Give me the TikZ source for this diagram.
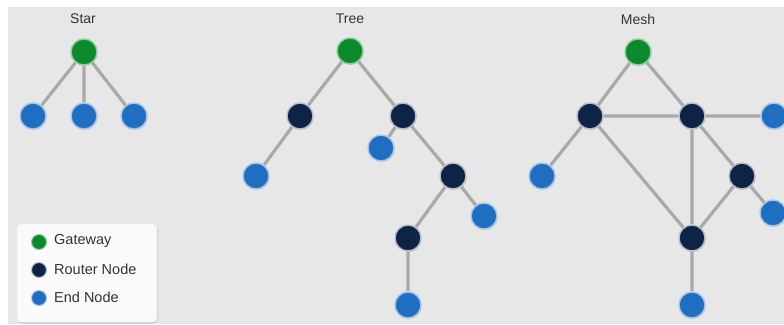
\documentclass[tikz,border=0pt]{standalone}
\usepackage{fontspec}
\setmainfont{Liberation Sans}
\usetikzlibrary{shadows}
\pgfdeclarelayer{backl}
\pgfdeclarelayer{edgel}
\pgfsetlayers{backl,edgel,main}
\definecolor{bg}{HTML}{E7E7E7}
\definecolor{gw}{HTML}{0B8A2C}
\definecolor{rt}{HTML}{0E2447}
\definecolor{en}{HTML}{1F6EC2}
\definecolor{edge}{HTML}{A9A9A9}
\definecolor{ttl}{HTML}{333333}
\tikzset{
  base/.style={circle, minimum size=26pt, inner sep=0pt, line width=1.4pt, drop shadow={shadow xshift=0.8pt, shadow yshift=-1pt, opacity=0.25}},
  gwnode/.style={base, fill=gw, draw=gw!45!white},
  rtnode/.style={base, fill=rt, draw=rt!30!white},
  ennode/.style={base, fill=en, draw=en!40!white},
  lk/.style={draw=edge, line width=3.2pt},
  ttlstyle/.style={text=ttl, font=\fontsize{14}{16}\selectfont},
  legtxt/.style={text=ttl, font=\fontsize{14.5}{16}\selectfont, anchor=west, inner sep=0pt},
  legdot/.style={circle, minimum size=15pt, inner sep=0pt, line width=1pt},
}
\begin{document}
\begin{tikzpicture}[x=1pt,y=-1pt]
\begin{pgfonlayer}{backl}
\fill[white] (0,0) rectangle (784,324);
\fill[bg] (8,7) rectangle (784,324);
\end{pgfonlayer}
\useasboundingbox (0,0) rectangle (784,324);

% titles
\node[ttlstyle] (tStar) at (83,19) {Star};
\node[ttlstyle] (tTree) at (350,19) {Tree};
\node[ttlstyle] (tMesh) at (638,19) {Mesh};

% Star
\node[gwnode] (sg) at (84,52) {};
\node[ennode] (s1) at (33,116) {};
\node[ennode] (s2) at (84,116) {};
\node[ennode] (s3) at (134,116) {};

% Tree
\node[gwnode] (tg) at (350,51) {};
\node[rtnode] (tr1) at (300,116) {};
\node[rtnode] (tr2) at (403,116) {};
\node[ennode] (te1) at (256,176) {};
\node[ennode] (te2) at (381,148) {};
\node[rtnode] (tr3) at (453,176) {};
\node[ennode] (te3) at (484,216) {};
\node[rtnode] (tr4) at (408,238) {};
\node[ennode] (te4) at (408,305) {};

% Mesh
\node[gwnode] (mg) at (638,52) {};
\node[rtnode] (mr1) at (590,116) {};
\node[rtnode] (mr2) at (692,116) {};
\node[ennode] (me1) at (774,116) {};
\node[ennode] (me2) at (542,176) {};
\node[rtnode] (mr3) at (742,176) {};
\node[ennode] (me3) at (773,213) {};
\node[rtnode] (mr4) at (692,238) {};
\node[ennode] (me4) at (692,305) {};

\begin{pgfonlayer}{edgel}
\draw[lk] (sg) -- (s1) (sg) -- (s2) (sg) -- (s3);
\draw[lk] (tg) -- (tr1) (tg) -- (tr2) (tr1) -- (te1) (tr2) -- (te2)
  (tr2) -- (tr3) (tr3) -- (te3) (tr3) -- (tr4) (tr4) -- (te4);
\draw[lk] (mg) -- (mr1) (mg) -- (mr2) (mr1) -- (mr2) (mr2) -- (me1)
  (mr1) -- (me2) (mr1) -- (mr4) (mr2) -- (mr4) (mr2) -- (mr3)
  (mr3) -- (me3) (mr3) -- (mr4) (mr4) -- (me4);
\end{pgfonlayer}

% legend
\node[draw=white!85!gray, fill=white!96!gray, rounded corners=4pt, line width=0.8pt,
  minimum width=140pt, minimum height=98pt, inner sep=0pt,
  drop shadow={shadow xshift=1pt, shadow yshift=-1.5pt, opacity=0.3}] (leg) at (87,273) {};
\node[legdot, fill=gw, draw=gw!45!white] (lg) at (39,242) {};
\node[legtxt] (lgt) at (54,241) {Gateway};
\node[legdot, fill=rt, draw=rt!30!white] (lr) at (39,270) {};
\node[legtxt] (lrt) at (54,269) {Router Node};
\node[legdot, fill=en, draw=en!40!white] (le) at (39,298) {};
\node[legtxt] (let) at (54,297) {End Node};
\end{tikzpicture}
\end{document}
